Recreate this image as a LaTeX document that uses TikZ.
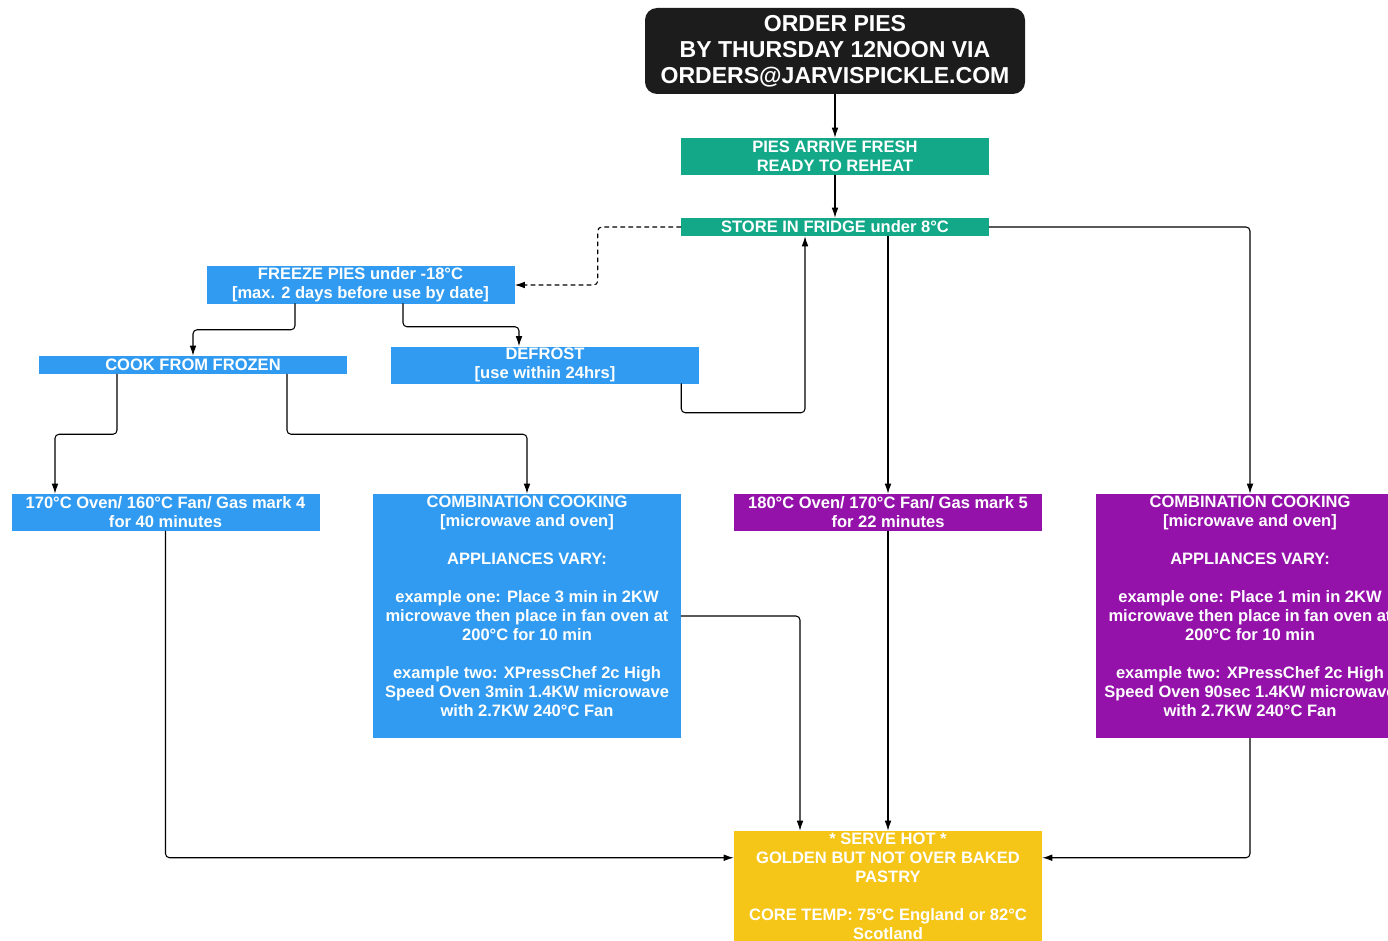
\documentclass[tikz,border=0pt]{standalone}
\usepackage{fontspec}
\setmainfont{Liberation Sans}
\usetikzlibrary{arrows.meta,calc}
\definecolor{pieteal}{RGB}{18,168,136}
\definecolor{pieblue}{RGB}{48,155,240}
\definecolor{piepurple}{RGB}{148,18,170}
\definecolor{pieyellow}{RGB}{245,197,24}
\definecolor{pieblack}{RGB}{28,28,28}

\begin{document}
\begin{tikzpicture}[x=0.75pt,y=-0.75pt,line cap=round,line join=round,
    box/.style={rectangle,inner sep=0pt,align=center,text=white,
      minimum width=231pt,minimum height=27.75pt,
      font=\bfseries\fontsize{12.4pt}{14.25pt}\selectfont},
    thinbox/.style={box,minimum height=13.5pt},
    arr/.style={line width=0.8pt,rounded corners=3pt,-{Latex[length=7.5pt,width=5pt]}}]
  \clip (0,0) rectangle (1388,941);
  \fill[white] (0,0) rectangle (1388,941);
  \node[box,fill=pieblack,rounded corners=9pt,minimum width=285pt,minimum height=64.5pt,
    font=\bfseries\fontsize{17.3pt}{19.5pt}\selectfont] (order) at (835,51)
    {ORDER PIES\\BY THURSDAY 12NOON VIA\\ORDERS@JARVISPICKLE.COM};
  \node[box,fill=pieteal] (arrive) at (835,156.5) {PIES ARRIVE FRESH\\READY TO REHEAT};
  \node[thinbox,fill=pieteal] (fridge) at (835,227) {STORE IN FRIDGE under 8°C};
  \node[box,fill=pieblue] (freeze) at (360.5,285) {FREEZE PIES under -18°C\\{[max. 2 days before use by date]}};
  \node[thinbox,fill=pieblue] (frozen) at (193,365) {COOK FROM FROZEN};
  \node[box,fill=pieblue] (defrost) at (545,365) {DEFROST\\{[use within 24hrs]}};
  \node[box,fill=pieblue] (ovenA) at (165.5,512.5) {170°C Oven/ 160°C Fan/ Gas mark 4\\for 40 minutes};
  \node[box,fill=pieblue,minimum height=183pt] (comboA) at (527,616)
    {COMBINATION COOKING\\{[microwave and oven]}\\[14.25pt]APPLIANCES VARY:\\[14.25pt]
     example one: Place 3 min in 2KW\\microwave then place in fan oven at\\200°C for 10 min\\[14.25pt]
     example two: XPressChef 2c High\\Speed Oven 3min 1.4KW microwave\\with 2.7KW 240°C Fan\\\mbox{}};
  \node[box,fill=piepurple] (ovenB) at (888,512.5) {180°C Oven/ 170°C Fan/ Gas mark 5\\for 22 minutes};
  \node[box,fill=piepurple,minimum height=183pt] (comboB) at (1250,616)
    {COMBINATION COOKING\\{[microwave and oven]}\\[14.25pt]APPLIANCES VARY:\\[14.25pt]
     example one: Place 1 min in 2KW\\microwave then place in fan oven at\\200°C for 10 min\\[14.25pt]
     example two: XPressChef 2c High\\Speed Oven 90sec 1.4KW microwave\\with 2.7KW 240°C Fan\\\mbox{}};
  \node[box,fill=pieyellow,minimum height=82.5pt] (serve) at (888,886)
    {* SERVE HOT *\\GOLDEN BUT NOT OVER BAKED\\PASTRY\\[14.25pt]CORE TEMP: 75°C England or 82°C\\Scotland};
  \draw[arr] (order.south) -- (arrive.north);
  \draw[arr] (arrive.south) -- (fridge.north);
  \draw[arr,dashed] (fridge.west) -- ++(-83,0) |- (freeze.east);
  \draw[arr] (fridge.south -| ovenB.north) -- (ovenB.north);
  \draw[arr] (fridge.east) -| (comboB.north);
  \draw[arr] ($(freeze.south)+(-65.5,0)$) -- ++(0,26) -| (frozen.north);
  \draw[arr] ($(freeze.south)+(42.5,0)$) -- ++(0,23) -| ($(defrost.north)+(-26,0)$);
  \draw[arr] ($(defrost.south east)+(-18,0)$) -- ++(0,29) -| ($(fridge.south)+(-30,0)$);
  \draw[arr] ($(frozen.south)+(-76,0)$) -- ++(0,60) -| ($(ovenA.north)+(-110.5,0)$);
  \draw[arr] ($(frozen.south)+(94,0)$) -- ++(0,60) -| (comboA.north);
  \draw[arr] (ovenA.south) |- ($(serve.north west)+(0,27)$);
  \draw[arr] (comboA.east) -| ($(serve.north)+(-88,0)$);
  \draw[arr] (ovenB.south) -- (serve.north);
  \draw[arr] (comboB.south) |- ($(serve.north east)+(0,27)$);
\end{tikzpicture}
\end{document}
